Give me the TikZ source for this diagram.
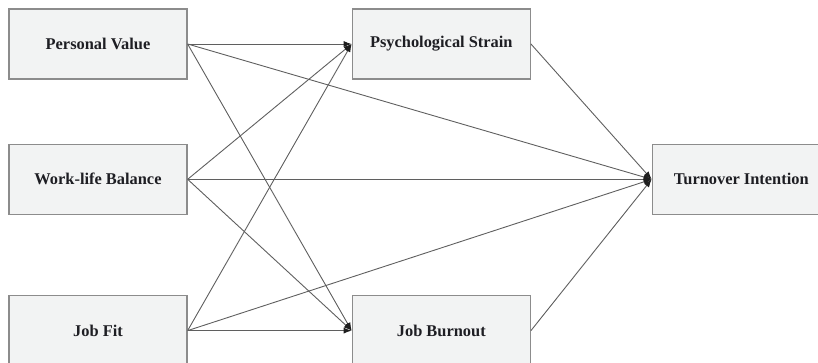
\documentclass[tikz,border=0pt]{standalone}
\usepackage{fontspec}
\setmainfont{Liberation Serif}
\usetikzlibrary{positioning, arrows.meta}
\definecolor{boxBg}{RGB}{242, 243, 243}
\definecolor{boxLine}{RGB}{140, 140, 140}
\definecolor{linkGray}{RGB}{95, 95, 95}
\definecolor{tipDark}{RGB}{30, 30, 30}
\definecolor{textDark}{RGB}{30, 30, 35}

\begin{document}
\begin{tikzpicture}[
    x=1pt, y=1pt,
    >={Latex[length=8pt,width=6pt,color=tipDark]},
    var/.style={
        draw=boxLine,
        fill=boxBg,
        rectangle,
        line width=1.3pt,
        align=center,
        minimum width=178pt,
        minimum height=70pt,
        inner sep=0pt,
        font=\fontsize{16.4}{19}\selectfont\bfseries\color{textDark}
    },
    path/.style={
        draw=linkGray,
        ->,
        line width=0.9pt
    }
]
\useasboundingbox (0,0) rectangle (818,-362);
\clip (0,0) rectangle (818,-362);

% 1. Antecedents (Column 1)
\node[var] (value) at (98,-44) {Personal Value};
\node[var, below=64pt of value] (balance) {Work-life Balance};
\node[var, below=80pt of balance] (fit) {Job Fit};

% 2. Mediators (Column 2)
\node[var, right=164pt of value] (strain) {Psychological Strain};
\node[var, right=164pt of fit] (burnout) {Job Burnout};

% 3. Outcome (Column 3)
\node[var, right=464pt of balance] (turnover) {Turnover Intention};

% paths from antecedents
\draw[path] (value.east) -- (strain.west);
\draw[path] (value.east) -- (burnout.west);
\draw[path] (value.east) -- (turnover.west);
\draw[path] (balance.east) -- (strain.west);
\draw[path] (balance.east) -- (turnover.west);
\draw[path] (balance.east) -- (burnout.west);
\draw[path] (fit.east) -- (strain.west);
\draw[path] (fit.east) -- (turnover.west);
\draw[path] (fit.east) -- (burnout.west);

% paths from mediators
\draw[path] (strain.east) -- (turnover.west);
\draw[path] (burnout.east) -- (turnover.west);

\end{tikzpicture}
\end{document}
